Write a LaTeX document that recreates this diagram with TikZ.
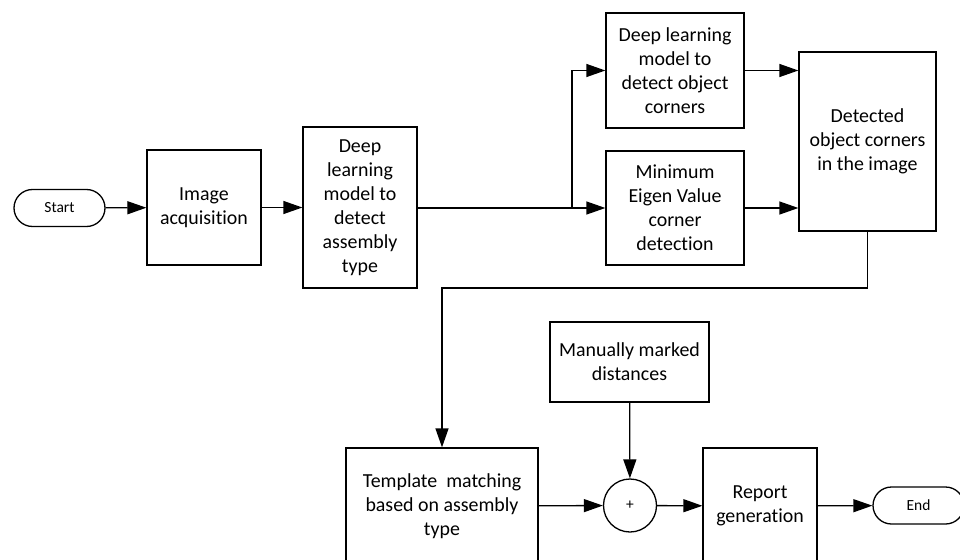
\documentclass[tikz,border=0pt]{standalone}
\usepackage{fontspec}
\setmainfont[Ligatures=NoCommon]{Carlito}
\usepackage{tikz}
\usetikzlibrary{arrows.meta,shapes.misc}

\begin{document}
\begin{tikzpicture}[x=1pt, y=-1pt, line width=1.3pt,
        block/.style={draw, rectangle, align=center, inner sep=0pt, font=\fontsize{19.9}{24}\selectfont},
        terminal/.style={draw, rounded rectangle, minimum width=91pt, minimum height=37pt, inner sep=0pt, font=\fontsize{15.5}{18}\selectfont},
        flow/.style={-{Triangle[length=19pt, width=13pt]}}]
        \useasboundingbox (0,0) rectangle (960,559);

        \node[terminal] (start) at (59.5, 208) {Start};
        \node[block, minimum width=114pt, minimum height=115pt] (acq) at (204, 207.5) {Image\\acquisition};
        \node[block, minimum width=114pt, minimum height=161pt] (asm) at (360, 207.5) {Deep\\learning\\model to\\detect\\assembly\\type};
        \node[block, minimum width=138pt, minimum height=115pt] (dlc) at (675, 70.5) {Deep learning\\model to\\detect object\\corners};
        \node[block, minimum width=138pt, minimum height=114pt] (eig) at (675, 208) {Minimum\\Eigen Value\\corner\\detection};
        \node[block, minimum width=137pt, minimum height=179pt] (det) at (867.5, 141.5) {Detected\\object corners\\in the image};
        \node[block, minimum width=159pt, minimum height=80pt] (man) at (629.5, 362) {Manually marked\\distances};
        \node[block, minimum width=192pt, minimum height=116pt] (tmp) at (442, 506) {Template\ \ matching\\based on assembly\\type};
        \node[draw, circle, minimum size=53pt, inner sep=0pt, font=\fontsize{15.5}{18}\selectfont] (sum) at (630, 505.5) {+};
        \node[block, minimum width=114pt, minimum height=116pt] (rep) at (760, 506) {Report\\generation};
        \node[terminal] (end) at (918.5, 505.5) {End};

        \coordinate (split) at (572, 208);
        \coordinate (bend) at (867.5, 288);

        \draw[flow] (start) -- (acq);
        \draw[flow] (acq) -- (asm);
        \draw (asm.east |- split) -- (split);
        \draw[flow] (split) |- (dlc.west);
        \draw[flow] (split) -- (eig.west |- split);
        \draw[flow] (dlc.east) -- (dlc.east -| det.west);
        \draw[flow] (eig.east) -- (eig.east -| det.west);
        \draw (det.south) -- (bend);
        \draw[flow] (bend) -| (tmp.north);
        \draw[flow] (man) -- (sum);
        \draw[flow] (tmp) -- (sum);
        \draw[flow] (sum) -- (rep);
        \draw[flow] (rep) -- (end);
    \end{tikzpicture}
\end{document}
